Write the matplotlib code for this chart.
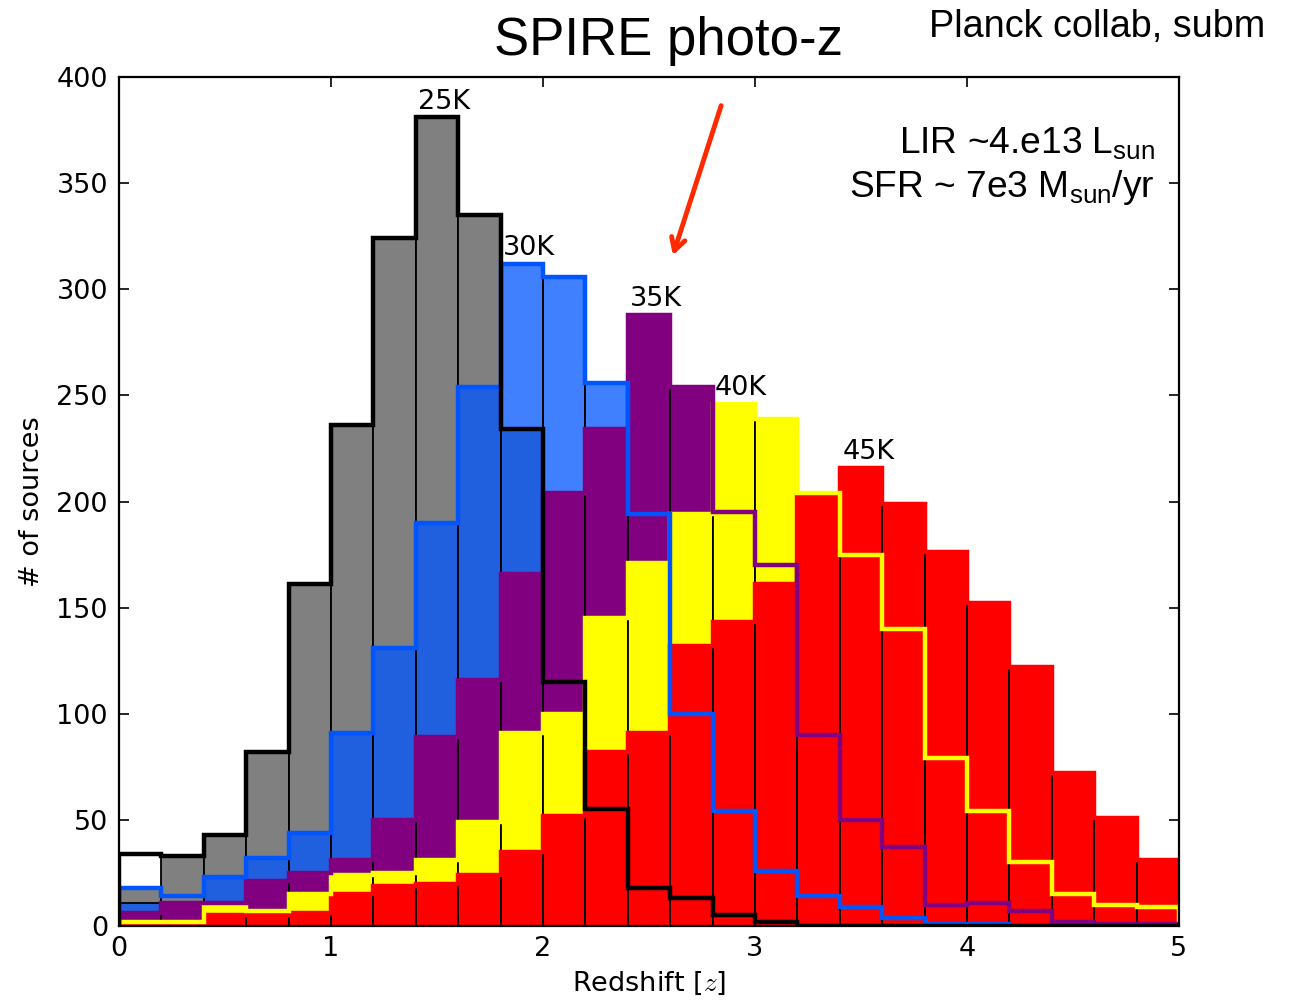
import numpy as np
import matplotlib
matplotlib.use("Agg")
import matplotlib.pyplot as plt
from matplotlib.colors import to_rgba

plt.rcParams["mathtext.fontset"] = "custom"
plt.rcParams["mathtext.rm"] = "Liberation Sans"
plt.rcParams["mathtext.it"] = "Liberation Sans:italic"

# redshift bins (0 -> 5, width 0.2)
z_edges = np.round(np.arange(0, 5.0001, 0.2), 2)

# outline (step) counts per dust temperature
n25 = [34, 33, 43, 82, 161, 236, 324, 381, 335, 234, 115, 55, 18, 13, 5, 2,
       0, 0, 0, 0, 0, 0, 0, 0, 0]
n30 = [18, 14, 23, 32, 44, 91, 131, 190, 254, 312, 306, 256, 194, 100, 54, 26,
       14, 9, 4, 1, 1, 0, 0, 0, 0]
n35 = [6, 11, 11, 21, 25, 31, 50, 89, 116, 166, 204, 234, 288, 254, 195, 170,
       90, 50, 37, 10, 11, 7, 2, 1, 1]
n40 = [2, 2, 9, 7, 15, 24, 25, 31, 49, 91, 100, 145, 171, 194, 246, 239,
       204, 175, 140, 79, 54, 30, 15, 10, 9]
n45 = [1, 1, 5, 5, 6, 15, 19, 20, 24, 35, 52, 82, 91, 132, 143, 161,
       203, 216, 199, 176, 152, 122, 72, 51, 31]

# filled bars differ from the outlines only in the lowest bins
n25_fill = [18] + n25[1:]
n30_fill = [11, 9] + n30[2:]

labels = ["25K", "30K", "35K", "40K", "45K"]
step_counts = [n25, n30, n35, n40, n45]
fill_counts = [n25_fill, n30_fill, n35, n40, n45]
colors = ["#808080", "#0055ff", "#800080", "#ffff00", "#ff0000"]
line_colors = ["black", "#0055ff", "#800080", "#ffff00", "#ff0000"]
fill_alpha = [1.0, 0.75, 1.0, 1.0, 1.0]

fig = plt.figure(figsize=(12.9, 10), dpi=100)
ax = fig.add_axes([119 / 1290, 74 / 1000, 1060 / 1290, 849 / 1000])

widths = np.diff(z_edges)
centers = z_edges[:-1] + widths / 2

# filled histograms with thin black edges
for counts, c, a in zip(fill_counts, colors, fill_alpha):
    ax.bar(z_edges[:-1], counts, width=widths, align="edge",
           color=to_rgba(c, a), edgecolor="black", linewidth=1.3, zorder=1)

# thick outlines on top, 25K drawn last
for counts, c in reversed(list(zip(step_counts, line_colors))):
    ax.stairs(counts, z_edges, baseline=0, color=c, linewidth=3.2, zorder=2)

# peak labels
for counts, lab in zip(step_counts, labels):
    i = int(np.argmax(counts))
    ax.text(centers[i] + 0.035, counts[i] + 4, lab, ha="center", va="baseline",
            fontsize=19.5, zorder=3)

ax.set_xlim(0, 5)
ax.set_ylim(0, 400)
ax.set_xticks(range(0, 6))
ax.set_yticks(range(0, 401, 50))
ax.tick_params(direction="in", top=True, right=True, length=7, width=1.2,
               labelsize=19.5)
ax.tick_params(axis="x", pad=7)
ax.tick_params(axis="y", pad=8)
for sp in ax.spines.values():
    sp.set_linewidth(1.6)
    sp.set_zorder(4)

ax.set_xlabel(r"Redshift [$z$]", fontsize=19.5, math_fontfamily="cm", labelpad=6)
ax.set_ylabel("# of sources", fontsize=19.5, labelpad=8)

# slide annotations
sans = "Liberation Sans"
fig.text(0.518, 0.945, "SPIRE photo-z", fontsize=38, family=sans,
         ha="center", va="baseline")
fig.text(0.981, 0.963, "Planck collab, subm", fontsize=27.2, family=sans,
         ha="right", va="baseline")
fig.text(0.8953, 0.847, r"LIR ~4.e13 L$_{\mathrm{sun}}$", fontsize=26.7,
         family=sans, ha="right", va="baseline")
fig.text(0.8953, 0.803, r"SFR ~ 7e3 M$_{\mathrm{sun}}$/yr", fontsize=26.7,
         family=sans, ha="right", va="baseline")

ax.annotate("", xy=(672 / 1290, 1 - 258 / 1000), xycoords="figure fraction",
            xytext=(722 / 1290, 1 - 103 / 1000), textcoords="figure fraction",
            arrowprops=dict(arrowstyle="->,head_length=0.9,head_width=0.5",
                            color="#ff2a00", lw=3.5))

fig.savefig("out.png", dpi=100)
